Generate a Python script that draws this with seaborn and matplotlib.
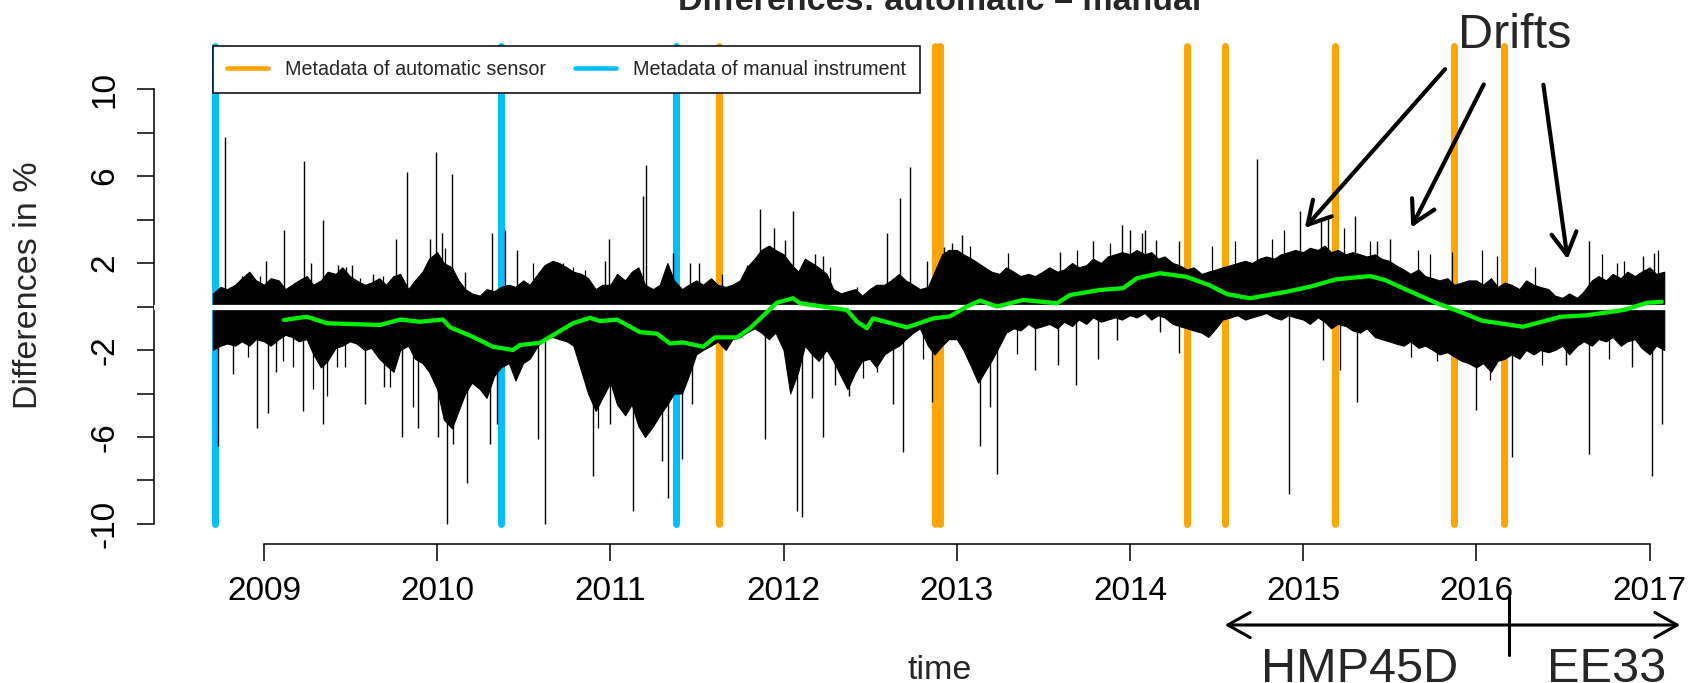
import numpy as np
import pandas as pd
import matplotlib
matplotlib.use("Agg")
import matplotlib.pyplot as plt
import seaborn as sns
from matplotlib.lines import Line2D
from matplotlib.patches import FancyArrowPatch

# ---------------- data ----------------
TITLE = "Differences: automatic \u2013 manual"
Y_LABEL = "Differences in %"
X_LABEL = "time"
LEGEND_LABELS = ["Metadata of automatic sensor", "Metadata of manual instrument"]

X_TICKS = [2009, 2010, 2011, 2012, 2013, 2014, 2015, 2016, 2017]
X_TICK_LABELS = ["2009", "2010", "2011", "2012", "2013", "2014", "2015", "2016", "2017"]
Y_TICKS = [-10, -8, -6, -4, -2, 0, 2, 4, 6, 8, 10]
Y_TICK_LABELS = ["-10", "", "-6", "", "-2", "", "2", "", "6", "", "10"]

# metadata events (decimal years)
META_AUTO = [2011.627, 2012.875, 2012.903, 2014.331, 2014.548, 2015.184, 2015.871, 2016.159]
META_MANUAL = [2008.717, 2010.366, 2011.379]

# daily differences, summarised per half month: upper / lower edge of the dense band
BAND_START = "2008-09-15"
BAND_HI_2008 = [0.6, 0.9, 0.8, 1.0, 1.3, 1.6, 1.2]
BAND_LO_2008 = [-2.0, -1.8, -1.7, -1.8, -1.6, -1.8, -1.5]
BAND_HI_2009 = [1.0, 1.3, 1.2, 0.8, 1.0, 1.2, 1.4, 1.0, 1.2, 1.6, 1.5, 1.8,
                1.4, 1.2, 1.0, 1.1, 1.3, 1.0, 1.4, 1.5, 0.8, 1.2, 1.6, 2.2]
BAND_LO_2009 = [-1.6, -1.8, -1.5, -1.3, -1.4, -1.6, -1.5, -2.2, -2.8, -2.5, -1.9, -1.8,
                -1.6, -1.7, -2.0, -1.9, -2.4, -2.7, -3.0, -2.0, -1.8, -2.4, -2.6, -3.0]
BAND_HI_2010 = [2.5, 2.0, 1.8, 1.2, 0.8, 0.6, 0.5, 0.8, 0.7, 0.9, 1.0, 0.9,
                1.2, 1.0, 1.5, 1.9, 2.1, 2.0, 1.8, 1.6, 1.5, 1.3, 0.8, 1.0]
BAND_LO_2010 = [-3.8, -5.2, -5.6, -4.8, -4.0, -3.5, -3.8, -4.2, -3.2, -2.8, -2.6, -3.4,
                -2.6, -2.4, -1.8, -1.5, -1.4, -1.5, -1.6, -1.8, -3.0, -4.0, -4.8, -4.2]
BAND_HI_2011 = [1.0, 1.5, 1.2, 1.6, 1.8, 1.0, 0.8, 1.0, 2.0, 1.2, 0.8, 1.0,
                1.2, 1.0, 1.3, 1.0, 0.9, 1.0, 1.2, 1.8, 2.2, 2.6, 2.8, 2.6]
BAND_LO_2011 = [-3.5, -4.5, -5.0, -4.5, -5.5, -6.0, -5.5, -5.0, -4.5, -4.0, -4.0, -3.2,
                -2.2, -2.0, -1.8, -1.6, -2.0, -1.5, -1.4, -1.2, -1.0, -1.2, -1.5, -1.2]
BAND_HI_2012 = [2.4, 2.0, 1.6, 2.2, 2.0, 1.8, 1.5, 0.8, 0.6, 0.7, 0.8, 0.5,
                0.8, 1.0, 1.0, 1.2, 1.5, 1.2, 1.0, 0.8, 0.9, 1.6, 2.4, 2.6]
BAND_LO_2012 = [-2.0, -4.0, -3.0, -1.8, -2.2, -2.5, -2.0, -2.5, -3.2, -3.8, -3.0, -2.5,
                -2.4, -2.8, -2.2, -2.0, -1.8, -1.5, -1.2, -1.0, -1.8, -2.2, -1.8, -1.5]
BAND_HI_2013 = [2.6, 2.4, 2.2, 2.0, 1.8, 1.6, 1.5, 1.8, 1.6, 1.4, 1.5, 1.4,
                1.6, 1.8, 1.6, 1.7, 2.0, 1.8, 1.9, 2.2, 2.0, 2.3, 2.4, 2.5]
BAND_LO_2013 = [-1.5, -2.0, -2.8, -3.5, -3.0, -2.5, -1.8, -1.2, -1.0, -1.1, -0.8, -1.0,
                -0.9, -0.8, -1.0, -0.7, -0.9, -0.6, -0.8, -0.5, -0.7, -0.6, -0.5, -0.6]
BAND_HI_2014 = [2.4, 2.6, 2.4, 2.5, 2.2, 2.3, 2.0, 1.9, 1.7, 1.8, 1.5, 1.6,
                1.7, 1.8, 1.9, 2.0, 2.1, 2.0, 2.2, 2.3, 2.2, 2.4, 2.5, 2.6]
BAND_LO_2014 = [-0.4, -0.5, -0.3, -0.6, -0.4, -0.5, -0.8, -0.9, -1.0, -1.1, -1.2, -1.4,
                -1.0, -0.6, -0.5, -0.4, -0.6, -0.5, -0.4, -0.3, -0.5, -0.6, -0.4, -0.5]
BAND_HI_2015 = [2.5, 2.7, 2.6, 2.8, 2.5, 2.6, 2.4, 2.5, 2.4, 2.3, 2.4, 2.2,
                2.1, 1.9, 1.7, 1.5, 1.7, 1.4, 1.3, 1.2, 1.3, 1.0, 1.1, 1.2]
BAND_LO_2015 = [-0.6, -0.8, -0.5, -0.7, -1.0, -0.8, -0.9, -1.1, -1.2, -1.0, -1.4, -1.5,
                -1.6, -1.7, -1.8, -1.6, -1.9, -1.8, -2.0, -2.2, -2.1, -2.3, -2.5, -2.6]
BAND_HI_2016 = [1.2, 1.0, 1.3, 0.9, 1.1, 1.0, 0.8, 1.2, 1.0, 0.9, 0.8, 0.5,
                0.4, 0.6, 0.4, 0.7, 1.2, 1.4, 1.2, 1.5, 1.3, 1.6, 1.4, 1.6]
BAND_LO_2016 = [-2.8, -2.6, -3.0, -2.5, -2.4, -2.2, -2.4, -2.0, -2.2, -2.0, -2.1, -2.0,
                -1.8, -2.2, -1.8, -1.6, -1.8, -1.5, -1.6, -1.4, -1.8, -1.6, -1.5, -1.9]
BAND_HI_2017 = [1.8, 1.5, 1.6]
BAND_LO_2017 = [-2.2, -1.8, -2.0]

# single-day extremes (decimal year, difference in %)
SPIKE_T = [2008.736, 2008.775, 2008.823, 2008.962, 2009.012, 2009.025, 2009.067, 2009.115,
           2009.227, 2009.229, 2009.270, 2009.339, 2009.343, 2009.429, 2009.473, 2009.510,
           2009.583, 2009.631, 2009.693, 2009.760, 2009.795, 2009.824, 2009.891, 2009.958,
           2009.993, 2010.007, 2010.026, 2010.055, 2010.087, 2010.092, 2010.160, 2010.174,
           2010.305, 2010.318, 2010.343, 2010.391, 2010.463, 2010.584, 2010.622, 2010.642,
           2010.709, 2010.901, 2010.969, 2010.992, 2010.998, 2011.133, 2011.190, 2011.206,
           2011.296, 2011.334, 2011.363, 2011.411, 2011.459, 2011.469, 2011.513, 2011.642,
           2011.864, 2011.893, 2011.945, 2012.008, 2012.027, 2012.056, 2012.075, 2012.104,
           2012.114, 2012.166, 2012.181, 2012.225, 2012.229, 2012.297, 2012.380, 2012.422,
           2012.599, 2012.633, 2012.672, 2012.687, 2012.730, 2012.826, 2012.855, 2012.926,
           2012.970, 2013.028, 2013.134, 2013.192, 2013.230, 2013.451, 2013.586, 2013.596,
           2013.688, 2013.788, 2013.817, 2013.924, 2013.952, 2014.000, 2014.067, 2014.087,
           2014.151, 2014.173, 2014.281, 2014.286, 2014.731, 2014.919, 2014.984, 2015.103,
           2015.114, 2015.146, 2015.211, 2015.298, 2015.308, 2015.427, 2015.503, 2016.000,
           2016.206, 2016.520, 2016.650, 2016.652, 2016.898, 2016.963, 2017.017, 2017.028,
           2017.071]
SPIKE_V = [-6.4, 7.8, -3.1, -5.6, 2.1, -4.9, -3.0, 3.5,
           -4.8, 6.7, 2.0, -5.4, 4.0, 1.9, 1.8, 1.9,
           -4.5, 1.5, -3.7, 3.1, -6.0, 6.2, -5.6, 3.1,
           7.1, -6.0, 3.4, -10.0, 6.1, -6.3, 1.6, -8.1,
           -6.3, 3.4, -5.4, 3.5, 2.6, -6.1, -10.0, 2.0,
           1.9, -7.8, 2.1, 3.1, -5.4, -9.4, 5.1, 6.5,
           -7.1, -8.8, 2.45, -7.0, 2.0, -4.5, 2.0, 1.5,
           4.5, -6.1, 3.6, 3.06, -2.9, 4.4, -9.4, -9.7,
           2.0, -4.2, 2.4, -6.0, 2.3, -3.6, -4.1, 0.9,
           3.4, -4.5, 5.0, -6.7, 6.4, 2.1, -4.4, 2.75,
           2.9, 3.3, -6.4, -4.6, -7.7, -2.9, -2.7, 2.5,
           -3.6, 3.0, -2.4, -1.54, 3.75, 3.5, 3.4, 3.5,
           3.06, -1.15, -2.15, 3.0, 6.77, -8.6, 4.4, 4.0,
           -2.46, 4.05, -2.9, 4.16, -4.4, 3.0, 3.1, -4.76,
           -6.9, -2.7, 3.0, -6.8, -2.8, 2.3, -7.8, 2.45,
           -5.4]

# smaller single-day excursions just outside the dense band
MINOR_T = [2008.871, 2008.910, 2008.977, 2009.108, 2009.169, 2009.285, 2009.362, 2009.420,
           2009.468, 2009.554, 2009.689, 2009.728, 2009.862, 2009.939, 2010.045, 2010.555,
           2010.728, 2010.786, 2010.853, 2010.930, 2011.036, 2011.094, 2011.585, 2011.787,
           2012.268, 2012.460, 2012.537, 2012.547, 2012.807, 2013.076, 2013.298, 2013.346,
           2013.692, 2013.885, 2014.476, 2014.606, 2014.822, 2014.887, 2015.233, 2015.384,
           2015.622, 2015.665, 2015.730, 2015.773, 2015.860, 2016.033, 2016.076, 2016.119,
           2016.336, 2016.379, 2016.725, 2016.768, 2016.811, 2016.855, 2017.050]
MINOR_V = [1.4, -2.3, 1.4, -2.5, -2.8, -3.8, -4.1, -2.8,
           -2.8, 1.3, 1.4, -3.7, -4.6, 1.4, 2.7, 2.0,
           2.0, 1.8, 1.7, -5.6, 1.3, 1.3, 1.1, 1.9,
           1.8, -3.3, -3.0, 0.9, -2.4, 2.8, 2.45, -2.2,
           2.6, 2.9, 2.8, 3.0, 3.1, 3.5, 3.6, 3.0,
           -2.3, 2.6, 2.4, -2.5, 2.5, 2.6, -3.4, 2.3,
           1.8, -2.7, 2.4, -2.4, 2.0, 2.1, 2.6]

# smoothed difference (green)
GREEN_T = [2009.115, 2009.248, 2009.364, 2009.670, 2009.785, 2009.900,
           2010.033, 2010.074, 2010.207, 2010.322, 2010.438, 2010.478, 2010.594, 2010.784, 2010.882, 2010.940,
           2011.038, 2011.171, 2011.269, 2011.344, 2011.419, 2011.535, 2011.604, 2011.731, 2011.806, 2011.962,
           2012.054, 2012.095, 2012.366, 2012.424, 2012.481, 2012.516, 2012.712, 2012.863, 2012.961,
           2013.059, 2013.134, 2013.232, 2013.382, 2013.578, 2013.654, 2013.827, 2013.960,
           2014.040, 2014.173, 2014.323, 2014.456, 2014.560, 2014.693, 2014.906,
           2015.039, 2015.189, 2015.386, 2015.472, 2015.599, 2015.773, 2015.905,
           2016.032, 2016.269, 2016.488, 2016.639, 2016.852, 2016.985, 2017.070]
GREEN_V = [-0.62, -0.47, -0.77, -0.85, -0.60, -0.70,
           -0.60, -0.95, -1.40, -1.85, -2.00, -1.77, -1.67, -0.77, -0.52, -0.67,
           -0.60, -1.18, -1.25, -1.70, -1.65, -1.85, -1.42, -1.42, -1.00, 0.18,
           0.38, 0.15, -0.16, -0.70, -1.00, -0.55, -0.96, -0.55, -0.45,
           0.00, 0.27, 0.00, 0.30, 0.15, 0.53, 0.76, 0.84,
           1.30, 1.53, 1.37, 0.99, 0.57, 0.38, 0.68,
           0.91, 1.25, 1.40, 1.22, 0.76, 0.15, -0.24,
           -0.65, -0.93, -0.47, -0.40, -0.16, 0.17, 0.22]

# ---------------- styling ----------------
ORANGE = "#FFA500"
BLUE = "#00BFFF"
GREEN = "#00EE00"

sns.set_style("white")
plt.rcParams["font.family"] = ["Liberation Sans", "DejaVu Sans"]

W, H = 1688, 683
fig = plt.figure(figsize=(W / 100, H / 100), dpi=100)


def fx(px):
    return px / W


def fy(py):
    return 1 - py / H


ax = fig.add_axes([fx(154), fy(544), (W - 154) / W, (544 - 26.4) / H])
ax.set_xlim(2008.365, 2017.222)
ax.set_ylim(-10.92, 12.88)

band_hi = (BAND_HI_2008 + BAND_HI_2009 + BAND_HI_2010 + BAND_HI_2011 + BAND_HI_2012
           + BAND_HI_2013 + BAND_HI_2014 + BAND_HI_2015 + BAND_HI_2016 + BAND_HI_2017)
band_lo = (BAND_LO_2008 + BAND_LO_2009 + BAND_LO_2010 + BAND_LO_2011 + BAND_LO_2012
           + BAND_LO_2013 + BAND_LO_2014 + BAND_LO_2015 + BAND_LO_2016 + BAND_LO_2017)
dates = pd.date_range(BAND_START, periods=len(band_hi), freq="SMS")
band_t = dates.year + (dates.dayofyear - 1) / np.where(dates.is_leap_year, 366, 365)

# vertical metadata lines
ax.vlines(META_MANUAL, -10, 12, color=BLUE, lw=5.0, capstyle="round", zorder=1)
ax.vlines(META_AUTO, -10, 12, color=ORANGE, lw=5.0, capstyle="round", zorder=1)

# daily differences
ax.fill_between(band_t, band_lo, band_hi, color="black", lw=0.8, zorder=2)
ax.vlines(SPIKE_T, 0, SPIKE_V, color="black", lw=1.0, zorder=2)
ax.vlines(MINOR_T, 0, MINOR_V, color="black", lw=0.9, zorder=2)

# zero line
ax.axhline(0, color="white", lw=3.8, zorder=3)

# smoothed curve
sns.lineplot(x=GREEN_T, y=GREEN_V, color=GREEN, lw=3.1, ax=ax, zorder=4,
             estimator=None, sort=False)

# axes in R style
for s in ["top", "right"]:
    ax.spines[s].set_visible(False)
for s in ["left", "bottom"]:
    ax.spines[s].set_color("black")
    ax.spines[s].set_linewidth(1.1)
ax.spines["left"].set_bounds(-10, 10)
ax.spines["bottom"].set_bounds(2009, 2017)

ax.set_xticks(X_TICKS)
ax.set_xticklabels(X_TICK_LABELS)
ax.set_yticks(Y_TICKS)
ax.set_yticklabels(Y_TICK_LABELS, rotation=90, va="center", ha="right")
ax.tick_params(axis="both", which="major", direction="out", length=12.2, width=1.1,
               color="black", labelcolor="black", labelsize=24, bottom=True, left=True)
ax.tick_params(axis="x", pad=10.5)
ax.tick_params(axis="y", pad=12)

ax.set_xlabel(X_LABEL, fontsize=24.5)
ax.xaxis.set_label_coords((940 - 154) / (W - 154), -(679 - 544) / 517.6)
ax.xaxis.label.set_va("baseline")
ax.set_ylabel(Y_LABEL, fontsize=24.5)
ax.yaxis.set_label_coords((29 - 154) / (W - 154), (544 - 285) / 517.6)
ax.yaxis.label.set_va("center")

fig.text(fx(940), fy(10), TITLE, ha="center", va="baseline", fontsize=24.5,
         fontweight="bold")

# legend
handles = [Line2D([0], [0], color=ORANGE, lw=3.3), Line2D([0], [0], color=BLUE, lw=3.3)]
leg = ax.legend(handles, LEGEND_LABELS, loc="upper left",
                bbox_to_anchor=(fx(212.5), fy(45.7)), bbox_transform=fig.transFigure,
                ncol=2, frameon=True, fancybox=False, edgecolor="black", framealpha=1,
                fontsize=14.2, handlelength=2.1, handletextpad=0.86, columnspacing=1.47,
                borderpad=0.71, borderaxespad=0)
leg.get_frame().set_linewidth(1.1)
leg.set_zorder(6)

# slide annotations
fig.text(fx(1515), fy(48), "Drifts", ha="center", va="baseline", fontsize=35)
for (x0, y0), (x1, y1) in [((1447, 67), (1303, 230)),
                           ((1485, 82), (1410, 230)),
                           ((1543, 82), (1568, 262))]:
    fig.add_artist(FancyArrowPatch((fx(x0), fy(y0)), (fx(x1), fy(y1)),
                                   transform=fig.transFigure,
                                   arrowstyle="->,head_length=0.8,head_width=0.45",
                                   mutation_scale=20, lw=3.0, color="black"))
fig.add_artist(FancyArrowPatch((fx(1222), fy(625)), (fx(1683), fy(625)),
                               transform=fig.transFigure,
                               arrowstyle="<->,head_length=0.8,head_width=0.45",
                               mutation_scale=20, lw=2.2, color="black"))
fig.add_artist(Line2D([fx(1509), fx(1509)], [fy(597), fy(655)],
                      transform=fig.transFigure, lw=2.2, color="black"))
fig.text(fx(1360), fy(682), "HMP45D", ha="center", va="baseline", fontsize=35)
fig.text(fx(1607), fy(682), "EE33", ha="center", va="baseline", fontsize=35)

fig.savefig("out.png", dpi=100)
